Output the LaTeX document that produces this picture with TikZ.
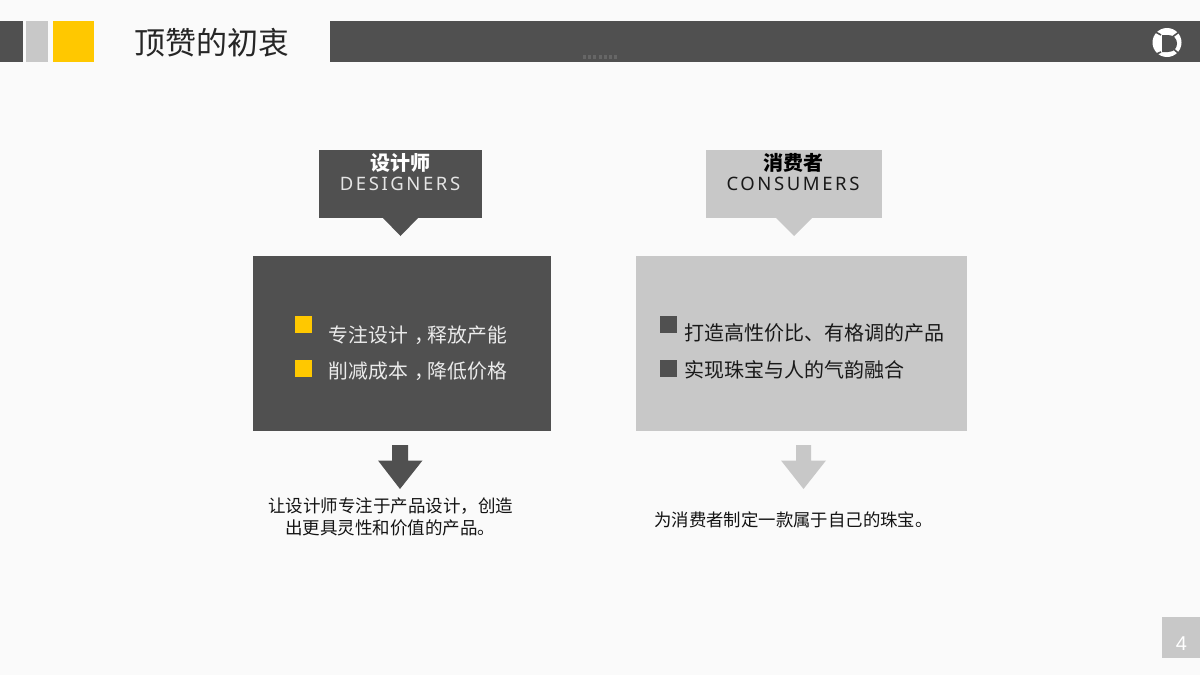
\documentclass[tikz,border=0pt]{standalone}
\usepackage{fontspec}
\setmainfont{Noto Sans CJK SC}
\newfontfamily\latinspaced[LetterSpace=14]{Noto Sans}
\newfontfamily\latinplain{Liberation Sans}
\definecolor{darkgrey}{HTML}{505050}
\definecolor{lightgrey}{HTML}{C8C8C8}
\definecolor{accent}{HTML}{FFC800}
\definecolor{pagebg}{HTML}{FAFAFA}
\newcommand{\fs}[1]{\fontsize{#1pt}{#1pt}\selectfont}
\newcommand{\midcomma}{\kern7pt，\kern-7pt}
\tikzset{
  txt/.style={anchor=base west,inner sep=0pt},
  ctr/.style={anchor=base,inner sep=0pt},
}
\begin{document}
\begin{tikzpicture}[x=1pt,y=-1pt]
\useasboundingbox (0,0) rectangle (1200,675);
\fill[pagebg] (0,0) rectangle (1200,675);
% top band
\fill[darkgrey] (0,21) rectangle (23,62);
\fill[lightgrey] (26,21) rectangle (48,62);
\fill[accent] (53,21) rectangle (94,62);
\fill[darkgrey] (330,21) rectangle (1200,62);
\node[txt,text=black!85] (title) at (134,54) {\fs{31}顶赞的初衷};
% faint unreadable mark in band
\draw[black!60,line width=3.5pt,dash pattern=on 3pt off 2.2pt] (583,57) -- (618,57);
% logo
\fill[white] (1167,42.5) circle (14.5);
\fill[darkgrey] (1162,35) -- (1168,35) .. controls (1174,35) and (1177,39) .. (1177,43.5) .. controls (1177,48) and (1174,52) .. (1168,52) -- (1162,52) -- cycle;
\draw[darkgrey,line width=1.6pt] (1173,36.5) -- (1183,29);
\draw[darkgrey,line width=1.6pt] (1174,49.5) -- (1183,57);
\draw[darkgrey,line width=1.6pt] (1161,35) -- (1152,30);
\draw[darkgrey,line width=1.6pt] (1161,52) -- (1152,56);
% designers column
\fill[darkgrey] (319,150) rectangle (482,218);
\fill[darkgrey] (383,218) -- (418,218) -- (400.5,236) -- cycle;
\node[ctr,text=white] (dname) at (400,170) {\fs{20}\bfseries 设计师};
\node[ctr,text=white!90!black] (den) at (400,190) {\fs{18.5}\latinspaced DESIGNERS};
\fill[darkgrey] (253,256) rectangle (551,431);
\fill[accent] (295,316) rectangle (312,333);
\fill[accent] (295,360) rectangle (312,377);
\node[txt,text=white!92!black] (d1) at (328.5,342.5) {\fs{19.8}专注设计\midcomma 释放产能};
\node[txt,text=white!92!black] (d2) at (328.5,378.5) {\fs{19.8}削减成本\midcomma 降低价格};
\fill[darkgrey] (392,445) -- (408,445) -- (408,460.5) -- (422.5,460.5) -- (400,489) -- (378,460.5) -- (392,460.5) -- cycle;
\node[txt,text=black!92] (dc1) at (268,512) {\fs{17.5}让设计师专注于产品设计，创造};
\node[txt,text=black!92] (dc2) at (285,534) {\fs{17.5}出更具灵性和价值的产品。};
% consumers column
\fill[lightgrey] (706,150) rectangle (882,218);
\fill[lightgrey] (776,218) -- (812,218) -- (794,236) -- cycle;
\node[ctr,text=black] (cname) at (793,170) {\fs{20}\bfseries 消费者};
\node[ctr,text=black!90] (cen) at (793,190) {\fs{18.5}\latinspaced CONSUMERS};
\fill[lightgrey] (636,256) rectangle (967,431);
\fill[darkgrey] (660,316) rectangle (677,333);
\fill[darkgrey] (660,360) rectangle (677,377);
\node[txt,text=black!90] (c1) at (684,340) {\fs{20}打造高性价比、有格调的产品};
\node[txt,text=black!90] (c2) at (684,377.5) {\fs{20}实现珠宝与人的气韵融合};
\fill[lightgrey] (796,445) -- (811,445) -- (811,460.5) -- (826,460.5) -- (803.5,489) -- (781,460.5) -- (796,460.5) -- cycle;
\node[txt,text=black!92] (cc1) at (654,526) {\fs{17.4}为消费者制定一款属于自己的珠宝。};
% page number
\fill[lightgrey] (1162,617) rectangle (1200,658);
\node[ctr,text=white] (pg) at (1181.5,650) {\fs{20}\latinplain 4};
\end{tikzpicture}
\end{document}
